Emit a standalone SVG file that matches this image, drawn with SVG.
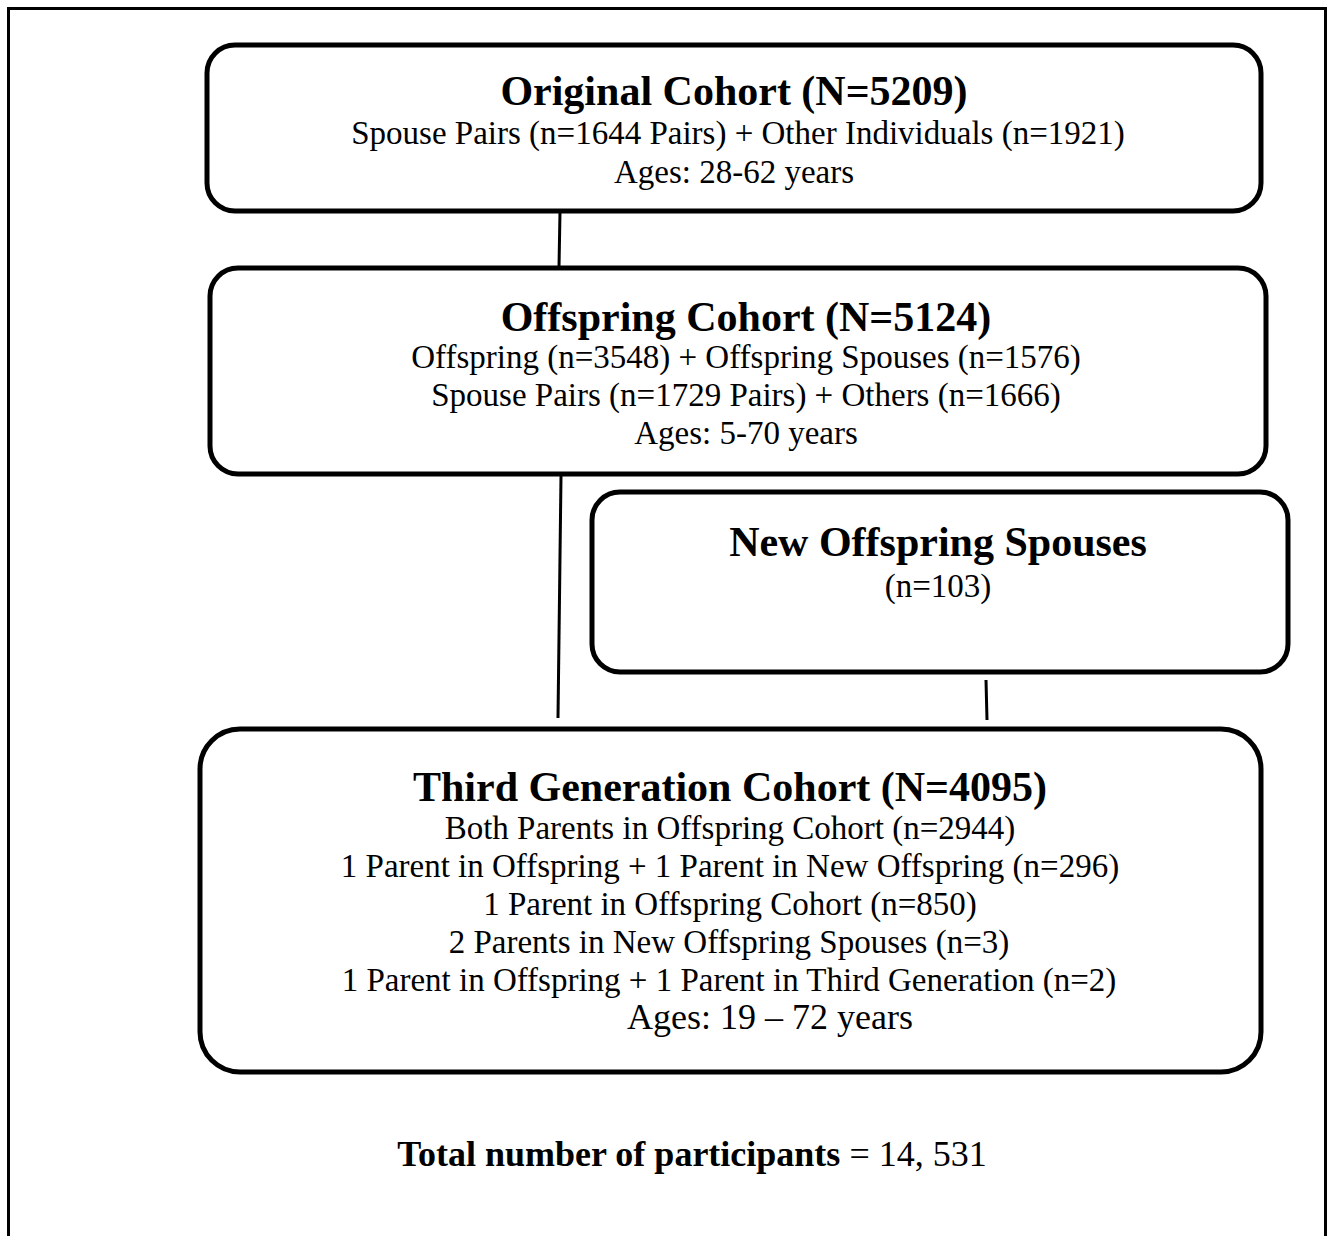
<svg xmlns="http://www.w3.org/2000/svg" width="1333" height="1236" viewBox="0 0 1333 1236">
<style>
.box{fill:#fff;stroke:#000;stroke-width:5}
.t{font-family:"Liberation Serif","Times New Roman",serif;fill:#000;text-anchor:middle}
.h{font-size:42px;font-weight:bold}
.r{font-size:33px}
.conn{stroke:#000;stroke-width:3;fill:none}
</style>
<rect width="1333" height="1236" fill="#fff"/>
<path d="M8.5,1240 V8.5 H1325.5 V1240" fill="none" stroke="#000" stroke-width="3"/>
<g id="connectors">
<line class="conn" x1="560" y1="212" x2="559" y2="267"/>
<line class="conn" x1="561" y1="476" x2="558" y2="718"/>
<line class="conn" x1="986" y1="680" x2="987" y2="720"/>
</g>
<g id="original">
<rect class="box" x="207" y="45" width="1054" height="166" rx="28"/>
<text class="t h" x="734" y="105">Original Cohort (N=5209)</text>
<text class="t r" x="738" y="144">Spouse Pairs (n=1644 Pairs) + Other Individuals (n=1921)</text>
<text class="t r" x="734" y="183">Ages: 28-62 years</text>
</g>
<g id="offspring">
<rect class="box" x="210" y="268" width="1056" height="206" rx="28"/>
<text class="t h" x="746" y="331">Offspring Cohort (N=5124)</text>
<text class="t r" x="746" y="368">Offspring (n=3548) + Offspring Spouses (n=1576)</text>
<text class="t r" x="746" y="406">Spouse Pairs (n=1729 Pairs) + Others (n=1666)</text>
<text class="t r" x="746" y="444">Ages: 5-70 years</text>
</g>
<g id="newspouses">
<rect class="box" x="592" y="492" width="696" height="180" rx="28"/>
<text class="t h" x="938" y="556">New Offspring Spouses</text>
<text class="t r" x="938" y="597">(n=103)</text>
</g>
<g id="third">
<rect class="box" x="200" y="729" width="1061" height="343" rx="40"/>
<text class="t h" x="730" y="801">Third Generation Cohort (N=4095)</text>
<text class="t r" x="730" y="839">Both Parents in Offspring Cohort (n=2944)</text>
<text class="t r" x="730" y="877">1 Parent in Offspring + 1 Parent in New Offspring (n=296)</text>
<text class="t r" x="730" y="915">1 Parent in Offspring Cohort (n=850)</text>
<text class="t r" x="729" y="953">2 Parents in New Offspring Spouses (n=3)</text>
<text class="t r" x="729" y="991">1 Parent in Offspring + 1 Parent in Third Generation (n=2)</text>
<text class="t" x="770" y="1029" style="font-size:36px">Ages: 19 – 72 years</text>
</g>
<g id="total">
<text class="t" x="692" y="1166" style="font-size:36px"><tspan font-weight="bold">Total number of participants</tspan> = 14, 531</text>
</g>
</svg>
